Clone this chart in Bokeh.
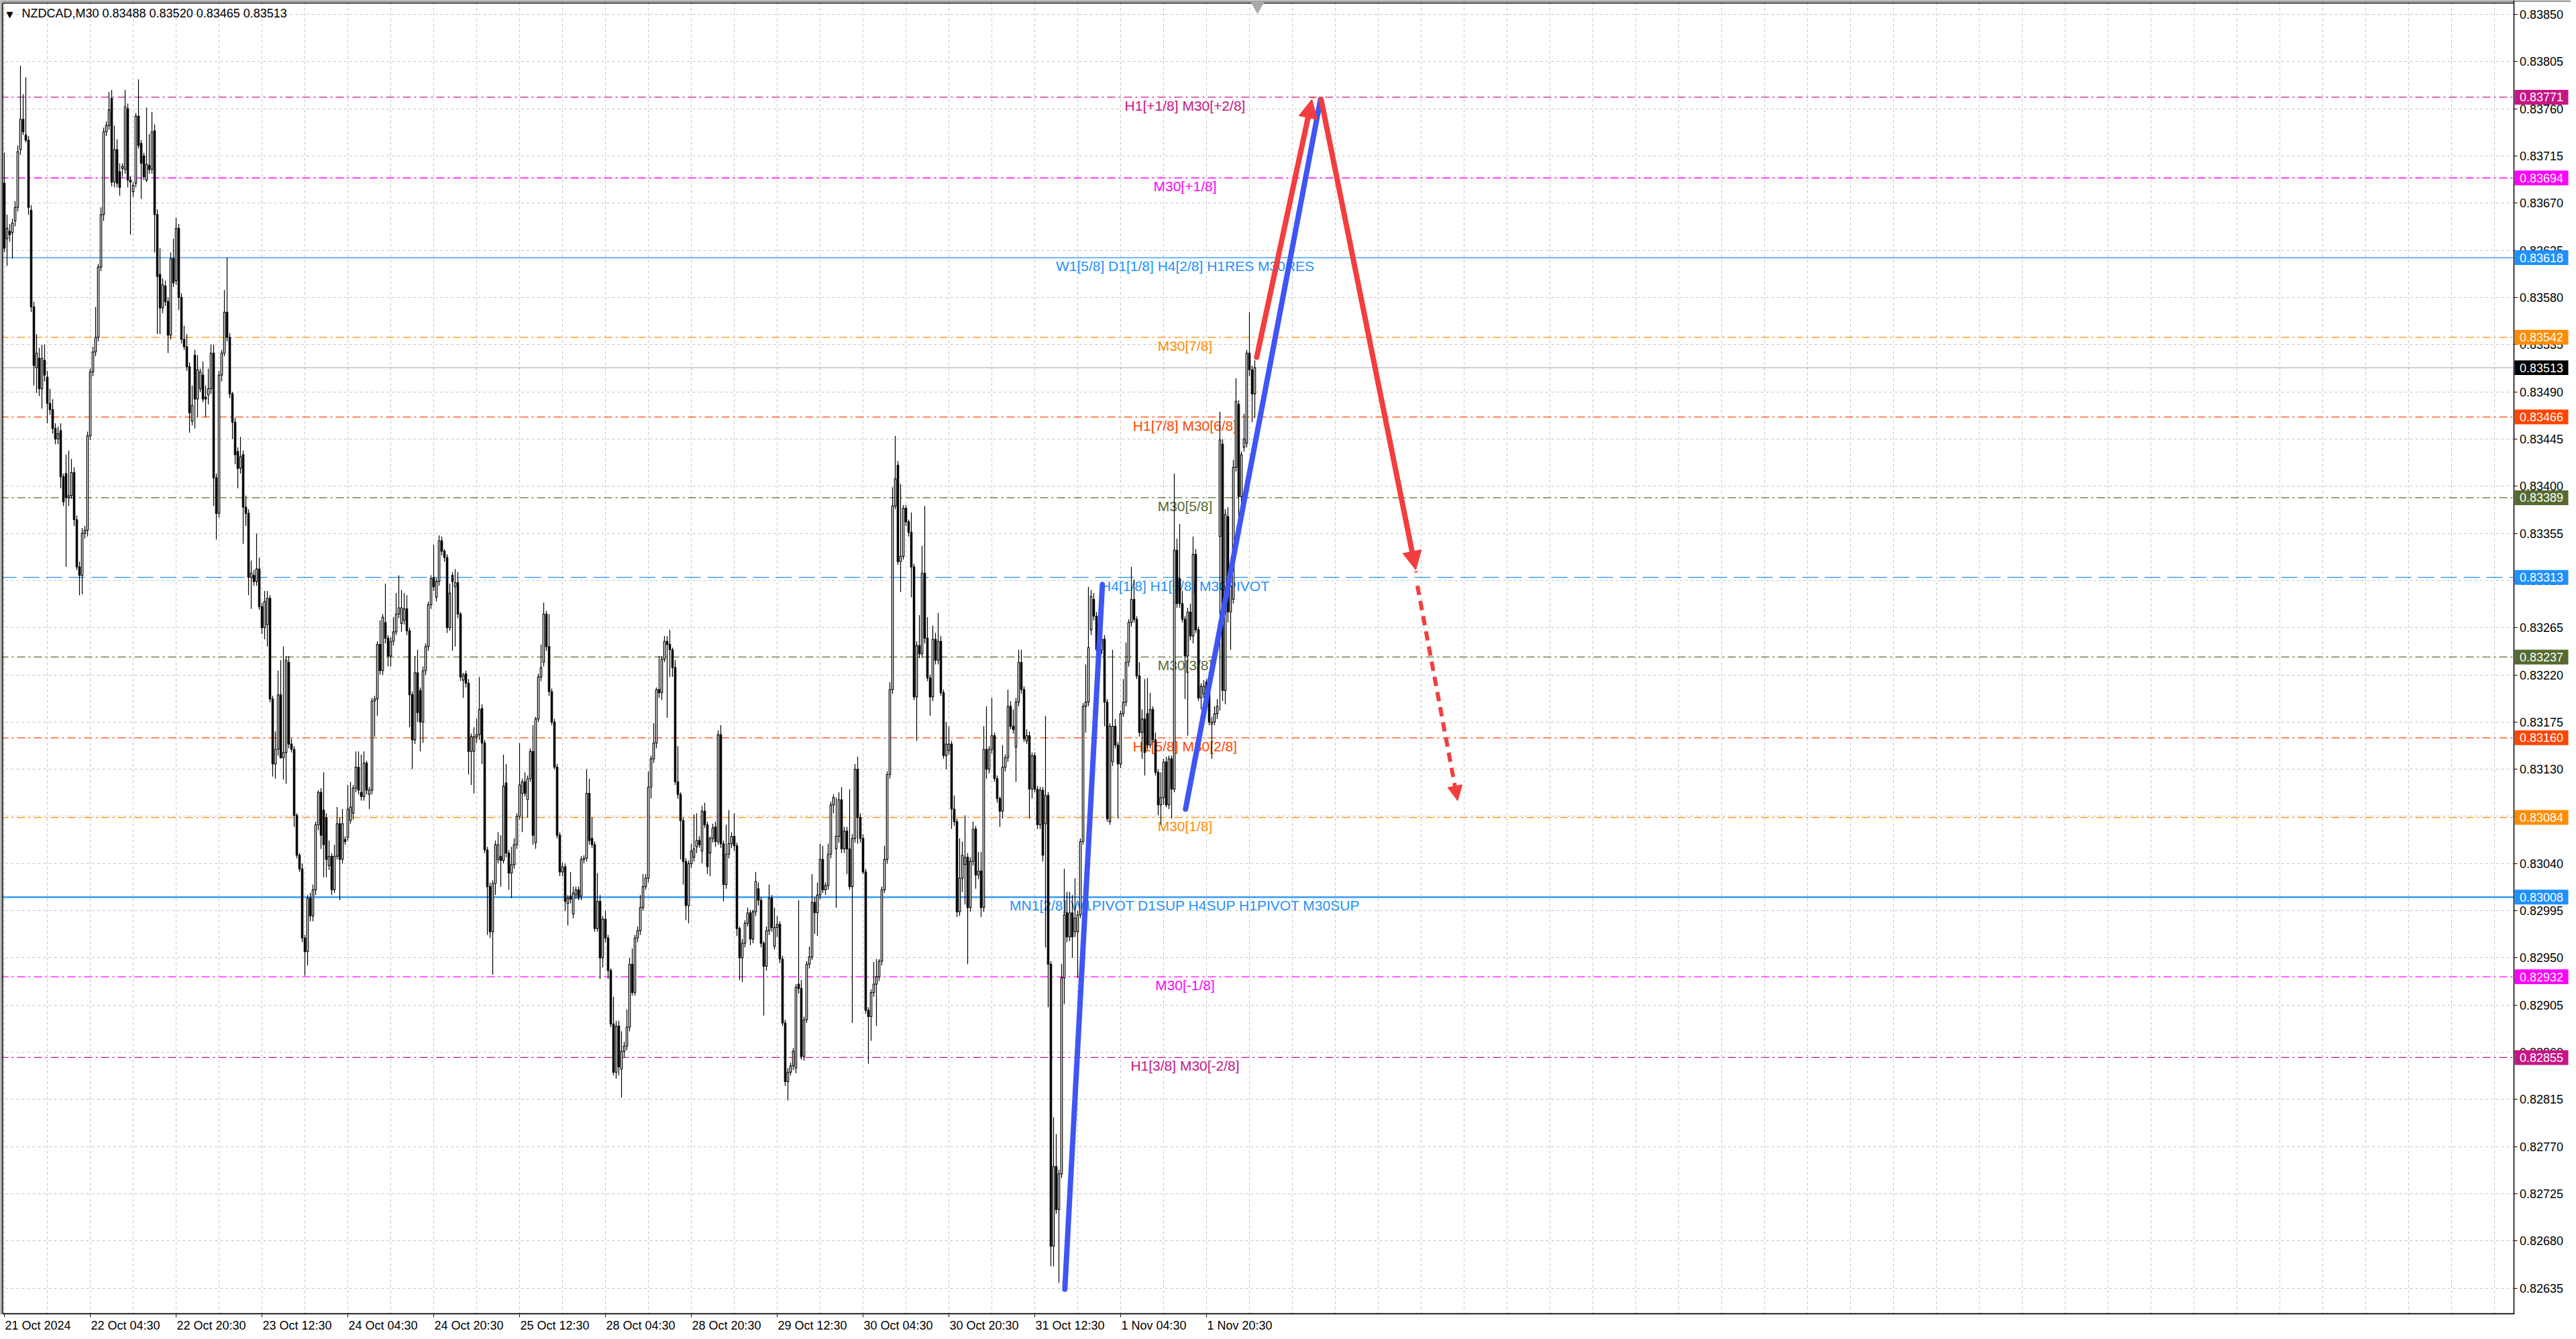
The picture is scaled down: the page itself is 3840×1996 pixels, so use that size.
from bokeh.plotting import figure
from bokeh.models import (ColumnDataSource, FixedTicker, Span, Label, Arrow,
                          NormalHead, Range1d, PrintfTickFormatter, BoxAnnotation)
from bokeh.embed import file_html
from bokeh.resources import INLINE
from bokeh.core.properties import value

# ---------------- data ----------------
SYMBOL = "NZDCAD,M30"
POINT = 1e5  # prices below are given in 0.00001 units

OHLC_ROWS = """
83689 83718 83623 83627
83636 83659 83610 83646
83643 83650 83633 83640
83642 83655 83617 83651
83653 83672 83648 83666
83666 83725 83662 83719
83721 83801 83716 83750
83750 83774 83735 83738
83735 83790 83728 83730
83730 83734 83659 83666
83663 83668 83566 83571
83571 83576 83496 83515
83513 83545 83489 83527
83522 83532 83486 83493
83493 83535 83474 83522
83520 83535 83500 83506
83504 83510 83460 83479
83479 83493 83468 83473
83473 83483 83450 83455
83455 83460 83440 83445
83445 83457 83440 83450
83453 83460 83398 83409
83409 83412 83381 83385
83412 83430 83323 83389
83389 83434 83381 83391
83391 83426 83388 83413
83413 83418 83362 83368
83368 83372 83320 83323
83323 83328 83296 83315
83315 83360 83297 83355
83355 83362 83350 83358
83358 83452 83352 83448
83448 83512 83444 83509
83509 83533 83505 83528
83528 83571 83524 83542
83542 83612 83538 83609
83609 83666 83605 83659
83659 83742 83653 83738
83738 83748 83734 83744
83744 83776 83740 83759
83770 83778 83686 83690
83690 83744 83685 83721
83721 83731 83685 83689
83700 83708 83677 83685
83703 83708 83695 83705
83702 83778 83698 83762
83760 83765 83685 83692
83692 83696 83640 83690
83681 83690 83676 83687
83689 83756 83685 83753
83753 83788 83722 83725
83727 83730 83674 83708
83715 83718 83692 83695
83692 83761 83690 83707
83706 83736 83698 83702
83702 83757 83698 83738
83739 83745 83623 83659
83659 83664 83545 83600
83602 83627 83545 83570
83570 83598 83565 83592
83591 83596 83572 83576
83576 83580 83527 83544
83544 83623 83540 83617
83617 83636 83590 83594
83596 83656 83592 83646
83646 83650 83568 83580
83580 83584 83536 83540
83540 83553 83530 83533
83533 83545 83510 83514
83514 83518 83451 83470
83462 83496 83458 83477
83525 83530 83455 83483
83483 83525 83466 83511
83493 83512 83490 83509
83506 83519 83480 83483
83485 83496 83466 83483
83487 83512 83478 83493
83493 83535 83488 83527
83527 83535 83381 83408
83408 83412 83349 83374
83374 83510 83370 83506
83506 83530 83500 83527
83527 83587 83524 83566
83566 83618 83538 83542
83542 83546 83484 83488
83488 83490 83445 83461
83461 83465 83421 83430
83433 83437 83398 83417
83417 83447 83412 83428
83430 83434 83345 83380
83380 83391 83362 83374
83374 83378 83296 83313
83313 83329 83283 83317
83315 83320 83305 83309
83309 83355 83305 83321
83321 83332 83282 83285
83285 83289 83259 83265
83265 83300 83254 83290
83268 83300 83247 83293
83293 83296 83194 83197
83197 83200 83123 83135
83135 83166 83121 83149
83149 83224 83143 83201
83201 83234 83140 83141
83141 83247 83120 83146
83146 83238 83116 83234
83232 83238 83150 83154
83154 83159 83146 83149
83149 83152 83075 83086
83086 83088 83045 83048
83048 83050 83032 83035
83035 83040 82965 82969
82969 82972 82933 82956
82956 83010 82943 83007
83007 83012 82985 82990
82990 83020 82985 83015
83015 83080 83010 83077
83077 83110 83072 83108
83108 83112 83054 83067
83091 83127 83027 83058
83084 83088 83027 83044
83038 83062 83034 83047
83047 83050 83010 83015
83015 83058 83012 83047
83047 83094 83044 83078
83078 83084 83005 83044
83044 83092 83040 83078
83063 83066 83058 83061
83065 83115 83062 83092
83081 83118 83078 83094
83088 83115 83082 83112
83112 83147 83108 83132
83132 83147 83106 83110
83108 83144 83100 83104
83104 83147 83100 83136
83136 83138 83106 83110
83106 83113 83092 83110
83110 83198 83106 83195
83195 83200 83161 83197
83197 83252 83181 83249
83249 83272 83220 83224
83224 83278 83220 83275
83270 83307 83250 83255
83255 83258 83228 83238
83238 83256 83228 83252
83252 83275 83248 83261
83261 83298 83258 83278
83278 83315 83274 83284
83269 83301 83261 83284
83272 83298 83268 83283
83283 83296 83258 83262
83262 83265 83170 83201
83201 83204 83130 83158
83158 83238 83154 83222
83222 83244 83175 83184
83205 83208 83147 83175
83175 83228 83155 83224
83224 83250 83220 83247
83247 83290 83243 83287
83287 83315 83283 83312
83313 83344 83300 83304
83294 83312 83290 83309
83309 83353 83305 83348
83348 83352 83334 83338
83338 83340 83328 83332
83332 83335 83260 83265
83265 83307 83262 83298
83315 83318 83243 83309
83304 83321 83247 83308
83308 83318 83274 83278
83278 83280 83214 83218
83215 83222 83198 83220
83221 83224 83208 83212
83212 83216 83125 83147
83147 83164 83115 83161
83147 83170 83107 83161
83161 83178 83155 83163
83163 83218 83158 83187
83188 83192 83135 83155
83155 83158 83050 83053
83053 83056 82972 83018
83018 83022 82969 82975
82975 83024 82934 83021
83021 83062 83010 83058
83044 83070 83040 83058
83047 83067 83018 83043
83043 83144 83040 83114
83117 83135 83046 83050
83050 83053 83015 83031
83031 83056 83007 83039
83039 83064 83035 83058
83058 83088 83054 83085
83085 83155 83082 83115
83107 83121 83070 83118
83118 83127 83104 83107
83101 83124 83084 83121
83121 83150 83118 83147
83147 83172 83058 83067
83060 83180 83054 83178
83178 83221 83175 83218
83218 83249 83214 83227
83232 83289 83228 83278
83278 83281 83243 83247
83247 83278 83200 83204
83204 83207 83172 83175
83175 83178 83130 83132
83132 83135 83064 83067
83067 83070 83028 83032
83032 83041 83028 83037
83037 83040 82995 83004
83002 83010 82981 83007
83009 83032 83002 83006
82992 83018 82988 83012
83010 83018 83006 83015
83015 83018 83005 83007
83009 83047 83005 83044
83044 83048 83040 83045
83045 83130 83042 83107
83107 83121 83058 83062
83064 83084 83055 83058
83058 83061 82975 82978
82978 83031 82975 83004
83004 83010 82930 82950
82950 82990 82941 82987
82987 82995 82965 82969
82969 82972 82930 82938
82938 82940 82884 82887
82887 82913 82838 82841
82841 82890 82835 82885
82885 82890 82838 82846
82844 82880 82817 82861
82861 82870 82855 82866
82866 82901 82862 82884
82884 82950 82880 82944
82944 82959 82914 82917
82917 82972 82914 82969
82969 82980 82965 82976
82976 83010 82972 82998
82998 83030 82995 83018
83018 83030 83015 83026
83026 83128 83022 83113
83113 83143 83102 83140
83140 83174 83136 83155
83155 83208 83150 83206
83206 83238 83198 83203
83203 83238 83196 83235
83235 83257 83232 83252
83252 83257 83179 83249
83249 83263 83218 83244
83244 83246 83218 83227
83227 83234 83115 83118
83118 83152 83102 83106
83106 83108 83044 83081
83081 83084 83020 83042
83042 83045 82986 83000
83000 83043 82983 83040
83040 83059 83036 83052
83046 83087 83042 83054
83056 83088 83050 83062
83062 83066 83055 83058
83052 83095 83040 83090
83090 83098 83074 83077
83077 83080 83030 83037
83050 83066 83028 83064
83064 83078 83060 83074
83075 83080 83056 83061
83061 83167 83058 83163
83163 83172 83055 83059
83059 83062 83004 83020
83020 83077 83016 83049
83049 83091 83045 83059
83059 83070 83055 83066
83066 83088 83052 83057
83057 83060 82971 82978
82978 82980 82929 82950
82950 82968 82927 82964
82964 82986 82960 82983
82983 82998 82980 82993
82993 82996 82962 82968
82968 82996 82964 82994
82994 83032 82990 83023
83016 83022 83000 83005
83005 83008 82960 82964
82964 82966 82895 82942
82942 82980 82938 82976
82976 83020 82972 83007
83007 83010 82975 82979
82961 82998 82958 82979
82979 82990 82970 82982
82982 82985 82945 82949
82949 82952 82885 82888
82888 82891 82828 82832
82832 82845 82814 82841
82841 82850 82838 82847
82847 82864 82843 82861
82845 82925 82840 82922
82925 83005 82916 82921
82921 82929 82853 82856
82856 82894 82852 82891
82891 82947 82888 82944
82944 82961 82940 82951
82951 83030 82948 83003
83003 83008 82973 82993
82993 83022 82971 83010
83010 83059 83006 83044
83044 83057 83012 83015
83015 83022 83010 83019
83019 83059 83015 83049
83049 83099 83045 83096
83096 83106 83088 83103
83054 83103 82998 83066
83066 83108 83060 83101
83101 83113 83050 83054
83054 83075 83050 83071
83071 83075 83030 83054
83054 83111 83015 83018
83018 83068 82888 83064
83064 83135 83060 83130
83130 83142 83059 83084
83084 83088 83060 83064
83064 83068 83030 83032
83032 83035 82897 82900
82900 82903 82849 82894
82894 82920 82871 82917
82917 82946 82913 82925
82925 82949 82885 82932
82932 82949 82928 82947
82947 83018 82943 83015
83015 83057 83012 83044
83044 83128 83040 83125
83125 83213 83121 83206
83206 83399 83202 83381
83381 83448 83378 83407
83420 83424 83325 83328
83328 83402 83299 83333
83333 83382 83330 83379
83379 83382 83362 83366
83366 83368 83352 83356
83356 83375 83294 83323
83323 83326 83196 83199
83199 83252 83157 83248
83248 83277 83236 83240
83240 83343 83236 83317
83317 83381 83250 83255
83255 83275 83214 83217
83217 83220 83181 83199
83199 83267 83195 83254
83254 83260 83230 83234
83234 83279 83230 83252
83252 83257 83200 83203
83203 83206 83140 83143
83143 83175 83130 83154
83148 83171 83144 83154
83154 83157 83073 83092
83092 83105 83076 83080
83080 83083 82989 82994
82994 83064 82990 83026
83026 83061 83013 83048
83039 83086 83001 83046
83046 83050 82944 82998
82998 83046 82994 83042
83042 83080 83038 83073
83073 83076 83016 83029
83029 83051 83025 83033
83033 83051 82989 82998
82998 83171 82994 83149
83149 83190 83121 83130
83130 83152 83126 83149
83149 83198 83145 83162
83162 83165 83118 83121
83121 83124 83098 83102
83102 83104 83075 83090
83090 83153 83083 83132
83132 83144 83128 83141
83141 83206 83137 83190
83190 83195 83168 83171
83171 83187 83164 83168
83151 83198 83118 83194
83194 83244 83190 83232
83232 83244 83202 83206
83206 83209 83156 83159
83157 83168 83154 83162
83162 83166 83083 83111
83111 83146 83102 83143
83143 83146 83108 83111
83111 83114 83073 83077
83077 83113 83073 83110
83110 83113 83042 83048
83078 83181 82960 83105
83105 83108 82903 82944
82944 82947 82656 82675
82675 82798 82656 82751
82751 82782 82706 82710
82710 82748 82640 82744
82744 82944 82740 82931
82931 83035 82906 82991
82993 83013 82965 82970
82970 83013 82966 82993
82993 83010 82950 82970
82975 83026 82970 82988
82975 82995 82931 82991
82991 83064 82988 83061
83061 83193 83058 83190
83190 83230 83165 83194
83194 83304 83190 83246
83263 83301 83258 83295
83292 83298 83272 83276
83276 83280 83240 83244
83240 83258 83236 83254
83244 83270 83240 83254
83254 83258 83171 83194
83194 83197 83080 83083
83080 83174 83077 83171
83137 83244 83133 83171
83171 83178 83150 83153
83153 83156 83083 83135
83135 83186 83131 83183
83183 83216 83180 83194
83194 83251 83190 83232
83232 83273 83228 83270
83270 83323 83266 83292
83292 83311 83270 83273
83273 83276 83216 83219
83219 83232 83161 83165
83165 83187 83140 83178
83178 83216 83124 83146
83183 83217 83150 83153
83153 83203 83150 83187
83187 83190 83155 83158
83158 83165 83124 83127
83127 83130 83086 83096
83096 83127 83077 83103
83103 83140 83096 83137
83137 83142 83094 83096
83096 83143 83092 83140
83140 83143 83083 83111
83111 83412 83108 83339
83339 83350 83284 83288
83312 83364 83284 83288
83288 83300 83270 83273
83273 83276 83197 83238
83238 83284 83162 83280
83280 83288 83253 83257
83257 83352 83250 83335
83335 83340 83260 83263
83263 83266 83195 83198
83198 83212 83187 83209
83202 83215 83198 83209
83213 83216 83200 83203
83203 83205 83172 83175
83173 83180 83140 83175
83175 83190 83172 83183
83183 83197 83178 83190
83352 83471 83186 83444
83440 83445 83195 83205
83205 83378 83192 83373
83371 83380 83270 83280
83280 83315 83244 83305
83292 83425 83288 83418
83418 83503 83414 83481
83478 83482 83360 83390
83390 83433 83372 83430
83437 83469 83433 83445
83441 83530 83437 83527
83527 83566 83505 83511
83511 83515 83461 83488
83488 83520 83465 83513
"""
_rows = [list(map(int, r.split())) for r in OHLC_ROWS.strip().splitlines()]
OPEN = [r[0] for r in _rows]
HIGH = [r[1] for r in _rows]
LOW = [r[2] for r in _rows]
CLOSE = [r[3] for r in _rows]

TIME_TICK_BARS = [0, 32, 64, 96, 128, 160, 192, 224, 256, 288, 320, 352, 384, 416, 448]
TIME_TICK_LABELS = ["21 Oct 2024", "22 Oct 04:30", "22 Oct 20:30", "23 Oct 12:30",
                    "24 Oct 04:30", "24 Oct 20:30", "25 Oct 12:30", "28 Oct 04:30",
                    "28 Oct 20:30", "29 Oct 12:30", "30 Oct 04:30", "30 Oct 20:30",
                    "31 Oct 12:30", "1 Nov 04:30", "1 Nov 20:30"]
PRICE_TICK_LABELS = ["0.82635", "0.82680", "0.82725", "0.82770", "0.82815", "0.82860",
                     "0.82905", "0.82950", "0.82995", "0.83040", "0.83085", "0.83130",
                     "0.83175", "0.83220", "0.83265", "0.83310", "0.83355", "0.83400",
                     "0.83445", "0.83490", "0.83535", "0.83580", "0.83625", "0.83670",
                     "0.83715", "0.83760", "0.83805", "0.83850"]

LEVEL_PRICES = [0.83771, 0.83694, 0.83618, 0.83542, 0.83466, 0.83389, 0.83313,
                0.83237, 0.83160, 0.83084, 0.83008, 0.82932, 0.82855]
LEVEL_NAMES = ["H1[+1/8] M30[+2/8]", "M30[+1/8]", "W1[5/8] D1[1/8] H4[2/8] H1RES M30RES",
               "M30[7/8]", "H1[7/8] M30[6/8]", "M30[5/8]", "H4[1/8] H1[6/8] M30PIVOT",
               "M30[3/8]", "H1[5/8] M30[2/8]", "M30[1/8]",
               "MN1[2/8] W1PIVOT D1SUP H4SUP H1PIVOT M30SUP", "M30[-1/8]", "H1[3/8] M30[-2/8]"]
LEVEL_LABEL_BAR = 440
LAST_PRICE = CLOSE[-1] / POINT

# forecast drawings (bar index, price)
BLUE_X0 = [395.2, 440.2]
BLUE_Y0 = [0.82634, 0.83092]
BLUE_X1 = [409.2, 490.5]
BLUE_Y1 = [0.83306, 0.83769]
RED_X0 = [466.7, 490.7]
RED_Y0 = [0.83523, 0.83769]
RED_X1 = [487.3, 526.0]
RED_Y1 = [0.83769, 0.83320]
RED_DASH_X = [526.6, 541.6]
RED_DASH_Y = [0.83305, 0.83100]

# ---------------- styles / layout ----------------
LEVEL_COLORS = ["#C71585", "#FF00FF", "#1E90FF", "#FF8C00", "#FF4500", "#556B2F", "#1E90FF",
                "#556B2F", "#FF4500", "#FF8C00", "#1E90FF", "#FF00FF", "#C71585"]
LEVEL_DASHES = ["12 5 3 5", "12 5 3 5", "solid", "12 5 3 5", "12 5 3 5", "12 5 3 5", "24 10",
                "12 5 3 5", "12 5 3 5", "12 5 3 5", "solid", "12 5 3 5", "12 5 3 5"]
LEVEL_WIDTHS = [1.3, 1.3, 1.3, 1.3, 1.3, 1.3, 1.3, 1.3, 1.3, 1.3, 2.2, 1.3, 1.3]
BLUE = "#3F55F4"
RED = "#F23E3E"

W, H = 3832, 1988
BORDER_B = 27
FRAME_W, FRAME_H = W, H - BORDER_B
PX_PER_BAR = 4.0
PX_PER_PRICE = 156436.0
X0 = -1.5                             # bar index at the left edge
SCALE_X = X0 + 3746.5 / PX_PER_BAR    # where the price scale strip starts
X1 = X0 + FRAME_W / PX_PER_BAR
Y1 = 0.83850 + 21 / PX_PER_PRICE      # price at the top edge
Y0 = Y1 - FRAME_H / PX_PER_PRICE
FONT_PX = 18

# approximate advance widths (em) of Liberation Sans, used to left-align time labels
ADV = {**{d: 0.556 for d in "0123456789"}, " ": 0.278, ":": 0.278, "O": 0.778,
       "c": 0.5, "t": 0.278, "N": 0.722, "o": 0.556, "v": 0.5}


def dx(px):
    return px / PX_PER_BAR


def dy(px):
    return px / PX_PER_PRICE


def text_px(s, size):
    return sum(ADV.get(ch, 0.556) for ch in s) * size


p = figure(width=W, height=H, x_range=Range1d(X0, X1), y_range=Range1d(Y0, Y1),
           output_backend="svg", toolbar_location=None, y_axis_location="right",
           min_border_left=0, min_border_top=0, min_border_right=0,
           min_border_bottom=BORDER_B)
p.background_fill_color = "white"
p.border_fill_color = "white"
p.outline_line_color = None

# price axis: drawn at the start of the price-scale strip
tick_vals = [float(s) for s in PRICE_TICK_LABELS]
p.yaxis.fixed_location = SCALE_X
p.yaxis.ticker = FixedTicker(ticks=tick_vals)
p.yaxis.formatter = PrintfTickFormatter(format="%.5f")

# time labels start at their tick (MetaTrader style): label anchors are shifted
label_pos = [round(b + dx(text_px(s, FONT_PX) / 2 + 1), 4)
             for b, s in zip(TIME_TICK_BARS, TIME_TICK_LABELS)]
p.xaxis.ticker = FixedTicker(ticks=label_pos, minor_ticks=TIME_TICK_BARS)
p.xaxis.major_label_overrides = {lp: s for lp, s in zip(label_pos, TIME_TICK_LABELS)}
for ax in (p.xaxis[0], p.yaxis[0]):
    ax.axis_line_color = "black"
    ax.axis_line_width = 1.5
    ax.major_tick_line_color = "black"
    ax.major_tick_out = 5
    ax.major_tick_in = 0
    ax.minor_tick_line_color = None
    ax.major_label_text_font = "Liberation Sans"
    ax.major_label_text_color = "black"
    ax.major_label_text_font_size = f"{FONT_PX}px"
p.xaxis.axis_line_color = None
p.xaxis.major_tick_line_color = None
p.xaxis.minor_tick_line_color = "black"
p.xaxis.minor_tick_out = 4
p.xaxis.minor_tick_in = 0
p.yaxis.major_label_standoff = 4
p.xaxis.major_label_standoff = 1

p.ygrid.ticker = FixedTicker(ticks=tick_vals)
p.xgrid.ticker = FixedTicker(ticks=list(range(0, int(SCALE_X) + 1, 16)))
for g in (p.xgrid[0], p.ygrid[0]):
    g.grid_line_color = "#C4C4C4"
    g.grid_line_dash = "4 4"
    g.grid_line_width = 1

# level lines (under candles)
for price, col, dash, lw in zip(LEVEL_PRICES, LEVEL_COLORS, LEVEL_DASHES, LEVEL_WIDTHS):
    p.add_layout(Span(location=price, dimension="width", line_color=col,
                      line_dash=dash, line_width=lw, level="underlay"))
p.add_layout(Span(location=LAST_PRICE, dimension="width", line_color="#B4B4B4",
                  line_width=1.2, level="underlay"))
# blank price-scale strip (hides grid / level lines there)
p.add_layout(BoxAnnotation(left=SCALE_X, fill_color="white", fill_alpha=1.0,
                           line_color=None, level="underlay"))

# window frame: gray outer edge, black chart border (left, top, bottom)
p.segment(x0=[X0, X0 + dx(1)], y0=[Y1 - dy(1), Y0], x1=[X1, X0 + dx(1)], y1=[Y1 - dy(1), Y1],
          line_color="#A0A0A0", line_width=3)
p.segment(x0=[X0 + dx(3.5), X0 + dx(3.5), X0 + dx(3.5)],
          y0=[Y0 + dy(1), Y1 - dy(4), Y0 + dy(1)],
          x1=[X0 + dx(3.5), SCALE_X, SCALE_X],
          y1=[Y1 - dy(4), Y1 - dy(4), Y0 + dy(1)],
          line_color="black", line_width=[1.5, 1.5, 2])

# level names (drawn before candles so candles cover them)
lvl_src = ColumnDataSource(dict(x=[LEVEL_LABEL_BAR] * len(LEVEL_PRICES), y=LEVEL_PRICES,
                                t=LEVEL_NAMES, c=LEVEL_COLORS))
p.text(x="x", y="y", text="t", text_color="c", source=lvl_src, text_align="center",
       text_baseline="top", y_offset=1, text_font=value("Liberation Sans"),
       text_font_size="21px")

# candles
idx = list(range(len(OPEN)))
o = [v / POINT for v in OPEN]
h = [v / POINT for v in HIGH]
l = [v / POINT for v in LOW]
c = [v / POINT for v in CLOSE]
p.segment(x0=idx, y0=l, x1=idx, y1=h, line_color="black", line_width=1.2)
up = [i for i in idx if c[i] >= o[i]]
dn = [i for i in idx if c[i] < o[i]]
p.vbar(x=up, width=0.6, top=[c[i] for i in up], bottom=[o[i] for i in up],
       fill_color="white", line_color="black", line_width=1.2)
p.vbar(x=dn, width=0.6, top=[o[i] for i in dn], bottom=[c[i] for i in dn],
       fill_color="black", line_color="black", line_width=1.2)

# chart-shift marker just after the last bar
p.scatter(x=[len(OPEN)], y=[Y1 - dy(9)], marker="inverted_triangle", size=18,
          fill_color="#A8A8A8", line_color="#A8A8A8")

# forecast lines
p.segment(x0=BLUE_X0, y0=BLUE_Y0, x1=BLUE_X1, y1=BLUE_Y1, line_color=BLUE,
          line_width=8, line_cap="round")
for xa, ya, xb, yb in zip(RED_X0, RED_Y0, RED_X1, RED_Y1):
    p.add_layout(Arrow(x_start=xa, y_start=ya, x_end=xb, y_end=yb, line_color=RED,
                       line_width=8, line_cap="round",
                       end=NormalHead(size=28, fill_color=RED, line_color=RED)))
p.add_layout(Arrow(x_start=RED_DASH_X[0], y_start=RED_DASH_Y[0], x_end=RED_DASH_X[1],
                   y_end=RED_DASH_Y[1], line_color=RED, line_width=6, line_dash="14 9",
                   end=NormalHead(size=22, fill_color=RED, line_color=RED)))

# price tags on the price scale (above the axis labels)
tag_prices = LEVEL_PRICES + [LAST_PRICE]
tag_colors = LEVEL_COLORS + ["black"]
tag_src = ColumnDataSource(dict(
    y=tag_prices, top=[v + dy(11) for v in tag_prices],
    bottom=[v - dy(11) for v in tag_prices], c=tag_colors,
    t=[f"{v:.5f}" for v in tag_prices]))
p.quad(left=SCALE_X + dx(1.5), right=SCALE_X + dx(81.5), top="top", bottom="bottom",
       fill_color="c", line_color=None, source=tag_src, level="overlay")
p.text(x=SCALE_X + dx(9), y="y", text="t", source=tag_src, text_color="white",
       text_baseline="middle", text_align="left", text_font=value("Liberation Sans"),
       text_font_size=f"{FONT_PX}px", level="overlay")

# chart caption
caption = f"{SYMBOL}  " + " ".join(f"{v / POINT:.5f}" for v in
                                    (OPEN[-1], HIGH[-1], LOW[-1], CLOSE[-1]))
p.add_layout(Label(x=X0 + dx(9), y=Y1 - dy(21), text="\u25BC", text_baseline="middle",
                   text_font="DejaVu Sans", text_font_size="13px",
                   text_color="black"))
p.add_layout(Label(x=X0 + dx(32), y=Y1 - dy(20), text=caption, text_baseline="middle",
                   text_font="Liberation Sans", text_font_size="18px",
                   text_color="black"))

open("out.html", "w").write(file_html(p, INLINE))
